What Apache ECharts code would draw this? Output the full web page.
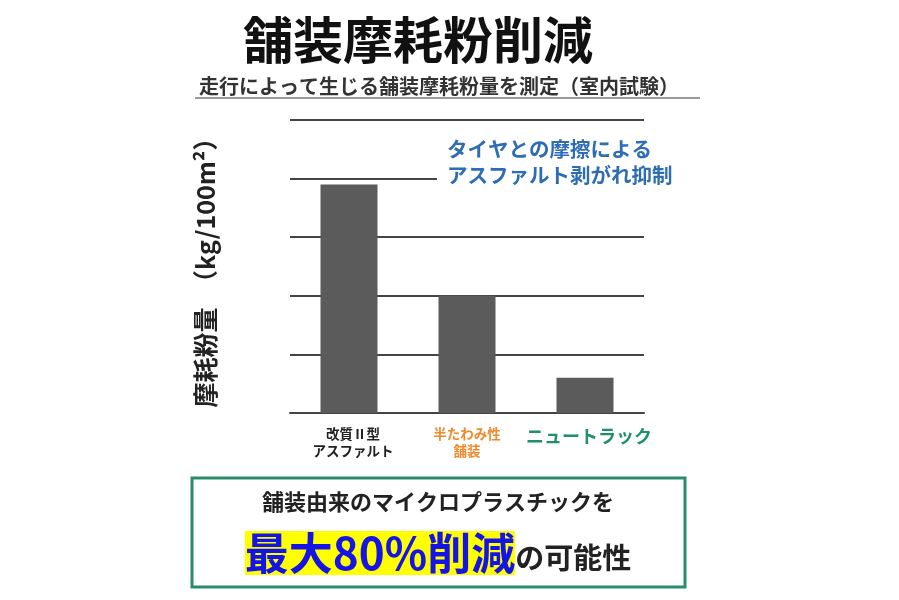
<!DOCTYPE html>
<html><head><meta charset="utf-8">
<script src="https://cdn.jsdelivr.net/npm/echarts@6/dist/echarts.min.js"></script>
<style>html,body{margin:0;padding:0;background:#fff}#c{width:899px;height:600px}</style>
</head><body><div id="c"></div>
<script>
const categories = ['改質Ⅱ型\nアスファルト', '半たわみ性\n舗装', 'ニュートラック'];
const values = [3.9, 2.0, 0.6];
const yTicks = [0, 1, 2, 3, 4, 5];
const titleText = '舗装摩耗粉削減';
const subtitleText = '走行によって生じる舗装摩耗粉量を測定（室内試験）';
const yName = '摩耗粉量　（kg/100m²）';
const noteLines = ['タイヤとの摩擦による', 'アスファルト剥がれ抑制'];
const boxLine1 = '舗装由来のマイクロプラスチックを';
const boxHighlight = '最大80%削減';
const boxTail = 'の可能性';

const FONT = '"Noto Sans CJK JP", "Noto Sans", sans-serif';
const labelStyles = ['c0', 'c1', 'c2'];
const chart = echarts.init(document.getElementById('c'));
chart.setOption({
  backgroundColor: '#fff',
  textStyle: { fontFamily: FONT },
  title: [
    { text: titleText, left: 413, top: 10, textAlign: 'center',
      textStyle: { fontFamily: FONT, fontSize: 50, fontWeight: 'bold', color: '#111' } },
    { text: subtitleText, left: 434, top: 71, textAlign: 'center',
      textStyle: { fontFamily: FONT, fontSize: 20, fontWeight: 'bold', color: '#333' } }
  ],
  grid: { left: 290, right: 255, top: 120, bottom: 187, containLabel: false },
  xAxis: {
    type: 'category', data: categories,
    axisLine: { show: true, lineStyle: { color: '#444', width: 2 } },
    axisTick: { show: false },
    axisLabel: {
      margin: 12, interval: 0,
      formatter: function (v, i) {
        return v.split('\n').map(s => '{' + labelStyles[i] + '|' + s + '}').join('\n');
      },
      rich: {
        c0: { fontFamily: FONT, fontSize: 13.5, fontWeight: 'bold', color: '#222', lineHeight: 17, padding: [0, 0, 0, 8] },
        c1: { fontFamily: FONT, fontSize: 13.5, fontWeight: 'bold', color: '#ef8a2c', lineHeight: 17 },
        c2: { fontFamily: FONT, fontSize: 18, fontWeight: 'bold', color: '#1f9068', lineHeight: 22, padding: [0, 0, 0, 8] }
      }
    }
  },
  yAxis: {
    type: 'value', min: yTicks[0], max: yTicks[yTicks.length - 1], interval: 1,
    axisLabel: { show: false }, axisLine: { show: false }, axisTick: { show: false },
    splitLine: { show: true, lineStyle: { color: '#444', width: 2 } },
    name: yName, nameLocation: 'middle', nameGap: 72, nameRotate: 90,
    nameTextStyle: { fontFamily: FONT, fontSize: 25, fontWeight: 'bold', color: '#222' }
  },
  series: [{
    type: 'bar', data: values, barWidth: 57,
    itemStyle: { color: '#5b5b5b' }, z: 3
  }],
  graphic: [
    { type: 'line', shape: { x1: 195, y1: 98, x2: 700, y2: 98 },
      style: { stroke: '#9a9a9a', lineWidth: 2 } },
    { type: 'text', left: 437, top: 134, z: 100,
      style: { text: noteLines.join('\n'), font: 'bold 20.5px ' + FONT, fill: '#2e6db4',
        lineHeight: 26, backgroundColor: '#fff', padding: [2, 4, 2, 10] } },
    { type: 'rect', shape: { x: 192, y: 478, width: 493, height: 109 },
      style: { fill: '#fff', stroke: '#2a8c6c', lineWidth: 3 } },
    { type: 'text', x: 438, y: 502, z: 100,
      style: { text: boxLine1, font: 'bold 22px ' + FONT, fill: '#222', align: 'center', verticalAlign: 'middle' } },
    { type: 'text', x: 438, y: 553, z: 100,
      style: { text: '{h|' + boxHighlight + '}{t|' + boxTail + '}', align: 'center', verticalAlign: 'middle',
        rich: {
          h: { fontFamily: FONT, fontSize: 44, fontWeight: 'bold', fill: '#1414e6', color: '#1414e6', backgroundColor: '#ffff00', lineHeight: 50 },
          t: { fontFamily: FONT, fontSize: 29, fontWeight: 'bold', fill: '#222', color: '#222', padding: [10, 0, 0, 0] }
        } } }
  ]
});
</script></body></html>
